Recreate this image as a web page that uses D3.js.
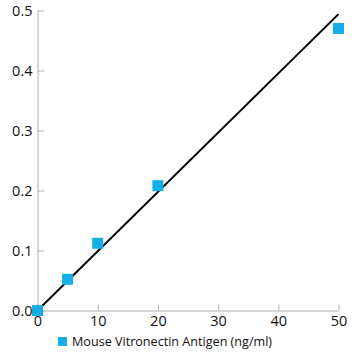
<!DOCTYPE html>
<html><head><meta charset="utf-8">
<script src="https://cdn.jsdelivr.net/npm/d3@7"></script>
<style>body{margin:0;background:#fff}svg{display:block}</style>
</head><body>
<script>
const concentrations = [0, 5, 10, 20, 50];
const absorbance = [0.0, 0.052, 0.112, 0.208, 0.47];
const trendX = [0, 50];
const trendY = [0.0, 0.494];
const xTicks = [0, 10, 20, 30, 40, 50];
const yTicks = [0.0, 0.1, 0.2, 0.3, 0.4, 0.5];
const seriesName = "Mouse Vitronectin Antigen (ng/ml)";

const W = 360, H = 360;
const svg = d3.select("body").append("svg").attr("width", W).attr("height", H);
const x = d3.scaleLinear().domain([0, 50]).range([37.5, 338.5]);
const y = d3.scaleLinear().domain([0, 0.5]).range([310.5, 10.5]);
const font = "'Open Sans', sans-serif";

const xa = svg.append("g").attr("transform", `translate(0,${y(0)})`)
  .call(d3.axisBottom(x).tickValues(xTicks).tickFormat(d3.format("d")).tickSizeInner(-6).tickSizeOuter(0).tickPadding(5));
const ya = svg.append("g").attr("transform", `translate(${x(0)},0)`)
  .call(d3.axisLeft(y).tickValues(yTicks).tickFormat(d3.format(".1f")).tickSizeInner(-7).tickSizeOuter(0).tickPadding(5));
[xa, ya].forEach(a => {
  a.selectAll("path,line").attr("stroke", "#b0b0b0");
  a.selectAll("text").attr("fill", "#111").style("font-family", font).style("font-size", "14.5px");
});
ya.selectAll("text").attr("dy", "0.35em");

const line = d3.line().x(d => x(d[0])).y(d => y(d[1]));
svg.append("path").datum(trendX.map((v, i) => [v, trendY[i]]))
  .attr("d", line).attr("stroke", "#000").attr("stroke-width", 2).attr("fill", "none");

const s = 11;
svg.selectAll("rect.pt").data(concentrations.map((v, i) => [v, absorbance[i]])).enter()
  .append("rect").attr("class", "pt")
  .attr("x", d => x(d[0]) - s / 2).attr("y", d => y(d[1]) - s / 2)
  .attr("width", s).attr("height", s).attr("fill", "#13aee6");

svg.append("rect").attr("x", 58).attr("y", 337).attr("width", 9).attr("height", 9).attr("fill", "#13aee6");
svg.append("text").attr("x", 72).attr("y", 346).text(seriesName)
  .style("font-family", font).style("font-size", "12.6px").attr("fill", "#111");
</script>
</body></html>
